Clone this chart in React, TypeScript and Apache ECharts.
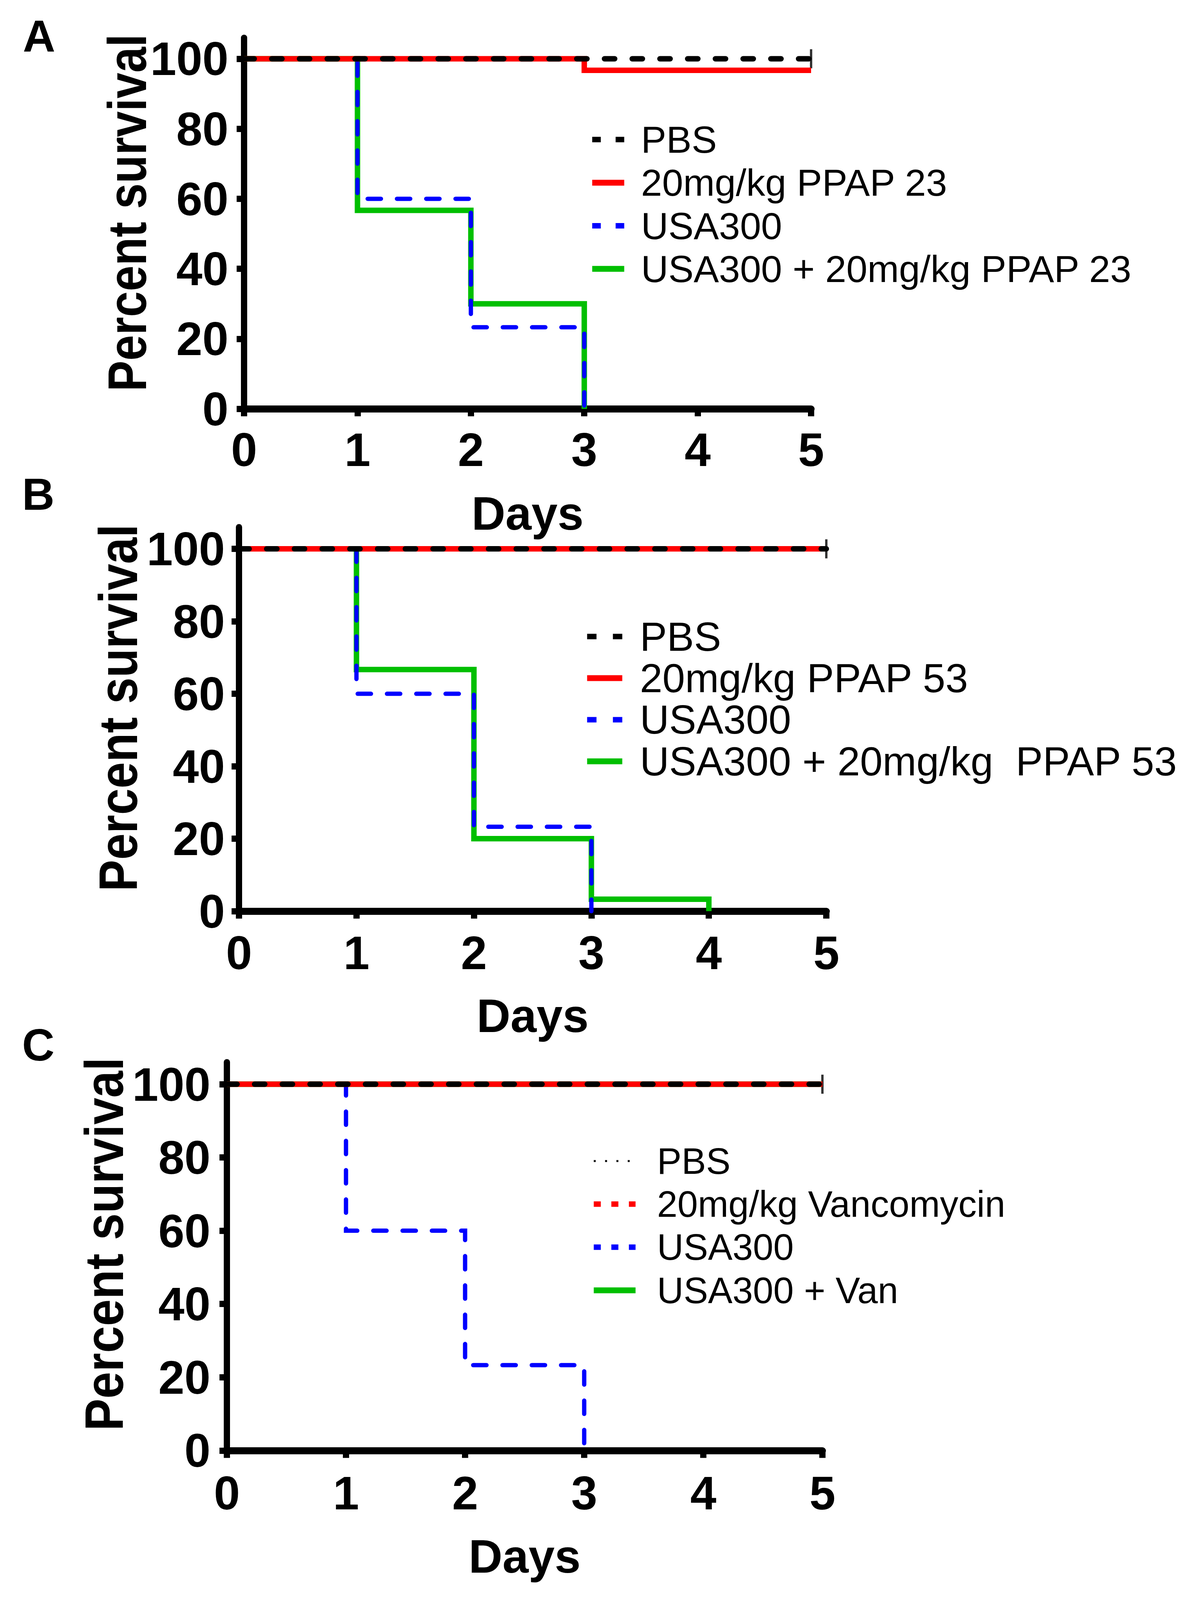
import React, { useEffect, useRef } from "react";
import * as echarts from "echarts";

// ---------- data ----------
const dayTicks = [0, 1, 2, 3, 4, 5];
const survivalTicks = [0, 20, 40, 60, 80, 100];
const panelLetters = ["A", "B", "C"];
const xTitle = "Days";
const yTitle = "Percent survival";

// Panel A  [day, percent survival]
const aPBS = [[0, 100], [5, 100]];
const aPPAP23 = [[0, 100], [3, 96.7], [5, 96.7]];
const aUSA300 = [[0, 100], [1, 60], [2, 23.3], [3, 0]];
const aUSA300PPAP23 = [[0, 100], [1, 56.7], [2, 30], [3, 0]];
const aCensored = [[5, 100]];
const legendA = ["PBS", "20mg/kg PPAP 23", "USA300", "USA300 + 20mg/kg PPAP 23"];

// Panel B
const bPBS = [[0, 100], [5, 100]];
const bPPAP53 = [[0, 100], [5, 100]];
const bUSA300 = [[0, 100], [1, 60], [2, 23.3], [3, 0]];
const bUSA300PPAP53 = [[0, 100], [1, 66.7], [2, 20], [3, 3.3], [4, 0]];
const bCensored = [[5, 100]];
const legendB = ["PBS", "20mg/kg PPAP 53", "USA300", "USA300 + 20mg/kg  PPAP 53"];

// Panel C
const cPBS = [[0, 100], [5, 100]];
const cVancomycin = [[0, 100], [5, 100]];
const cUSA300 = [[0, 100], [1, 60], [2, 23.3], [3, 0]];
const cUSA300Van = [[0, 100], [5, 100]];
const cCensored = [[5, 100]];
const legendC = ["PBS", "20mg/kg Vancomycin", "USA300", "USA300 + Van"];

// ---------- layout / style (reference coordinates, 3055 x 4195) ----------
const REF_W = 3055;
const REF_H = 4195;
const FONT = "'Liberation Sans', Arial, sans-serif";
const BLACK = "#000000";
const RED = "#ff0000";
const BLUE = "#0000ff";
const GREEN = "#00bf00";

const layouts = [
  { left: 625, top: 99, width: 1452, height: 973, xMargin: 45, yMargin: 40, nameGap: 212,
    legLeft: 1504, legRow1: 366, legRow: 113, legW: 82, legFont: 97, legPad: 38,
    yTitleX: 325, yTitleY: 558, yTitleScale: 0.866, letterX: 100, letterY: 94 },
  { left: 612, top: 1382, width: 1504, height: 1007, xMargin: 48, yMargin: 36, nameGap: 212,
    legLeft: 1491, legRow1: 1669, legRow: 109, legW: 90, legFont: 104, legPad: 40,
    yTitleX: 302, yTitleY: 1856, yTitleScale: 0.89, letterX: 98, letterY: 1296 },
  { left: 581, top: 2785, width: 1525, height: 1018, xMargin: 50, yMargin: 42, nameGap: 216,
    legLeft: 1508, legRow1: 3044, legRow: 113, legW: 107, legFont: 94, legPad: 50,
    yTitleX: 266, yTitleY: 3262, yTitleScale: 0.905, letterX: 98, letterY: 2740 },
];

type LineDef = { name: string; data: number[][]; color: string; width: number; dash: any; cap: string };

const panels: { legend: string[]; lines: LineDef[]; censored: number[][]; legendStyles: any[] }[] = [
  {
    legend: legendA,
    censored: aCensored,
    lines: [
      { name: legendA[3], data: aUSA300PPAP23, color: GREEN, width: 14, dash: "solid", cap: "butt" },
      { name: legendA[2], data: aUSA300, color: BLUE, width: 11, dash: [34, 41], cap: "round" },
      { name: legendA[1], data: aPPAP23, color: RED, width: 14, dash: "solid", cap: "butt" },
      { name: legendA[0], data: aPBS, color: BLACK, width: 14, dash: [26, 45], cap: "round" },
    ],
    legendStyles: [
      { width: 14, type: [22, 38] },
      { width: 15, type: "solid" },
      { width: 14, type: [22, 38] },
      { width: 15, type: "solid" },
    ],
  },
  {
    legend: legendB,
    censored: bCensored,
    lines: [
      { name: legendB[3], data: bUSA300PPAP53, color: GREEN, width: 14, dash: "solid", cap: "butt" },
      { name: legendB[2], data: bUSA300, color: BLUE, width: 11, dash: [34, 41], cap: "round" },
      { name: legendB[1], data: bPPAP53, color: RED, width: 14, dash: "solid", cap: "butt" },
      { name: legendB[0], data: bPBS, color: BLACK, width: 14, dash: [26, 45], cap: "round" },
    ],
    legendStyles: [
      { width: 14, type: [24, 42] },
      { width: 15, type: "solid" },
      { width: 14, type: [24, 42] },
      { width: 15, type: "solid" },
    ],
  },
  {
    legend: legendC,
    censored: cCensored,
    lines: [
      { name: legendC[3], data: cUSA300Van, color: GREEN, width: 14, dash: "solid", cap: "butt" },
      { name: legendC[2], data: cUSA300, color: BLUE, width: 11, dash: [34, 41], cap: "round" },
      { name: legendC[1], data: cVancomycin, color: RED, width: 14, dash: "solid", cap: "butt" },
      { name: legendC[0], data: cPBS, color: BLACK, width: 14, dash: [26, 45], cap: "round" },
    ],
    legendStyles: [
      { width: 5, type: [5, 24] },
      { width: 14, type: [18, 27] },
      { width: 14, type: [18, 27] },
      { width: 15, type: "solid" },
    ],
  },
];

const tag = (name: string, p: number) => `${name}#${p}`;

function buildOption(k: number) {
  const grid: any[] = [];
  const xAxis: any[] = [];
  const yAxis: any[] = [];
  const legend: any[] = [];
  const series: any[] = [];
  const graphic: any[] = [];

  panels.forEach((panel, p) => {
    const L = layouts[p];
    grid.push({ left: L.left, top: L.top * k, width: L.width, height: L.height * k, containLabel: false });
    xAxis.push({
      gridIndex: p,
      type: "value",
      min: dayTicks[0],
      max: dayTicks[dayTicks.length - 1],
      interval: 1,
      name: xTitle,
      nameLocation: "middle",
      nameGap: L.nameGap * k,
      nameTextStyle: { fontFamily: FONT, fontSize: 120, fontWeight: "bold", color: BLACK },
      axisLine: { show: true, onZero: false, lineStyle: { color: BLACK, width: 18 } },
      axisTick: { show: true, length: 19, lineStyle: { color: BLACK, width: 16 } },
      axisLabel: { fontFamily: FONT, fontSize: 120, fontWeight: "bold", color: BLACK, margin: L.xMargin * k },
      splitLine: { show: false },
    });
    yAxis.push({
      gridIndex: p,
      type: "value",
      min: 0,
      max: 106,
      axisLine: { show: true, onZero: false, lineStyle: { color: BLACK, width: 16 } },
      axisTick: { show: true, length: 19, customValues: survivalTicks, lineStyle: { color: BLACK, width: 16 } },
      axisLabel: {
        customValues: survivalTicks,
        fontFamily: FONT,
        fontSize: 120,
        fontWeight: "bold",
        color: BLACK,
        margin: L.yMargin,
      },
      splitLine: { show: false },
    });

    panel.lines.forEach((ln) => {
      series.push({
        type: "line",
        name: tag(ln.name, p),
        xAxisIndex: p,
        yAxisIndex: p,
        data: ln.data,
        step: "end",
        symbol: "none",
        silent: true,
        lineStyle: { color: ln.color, width: ln.width, type: ln.dash, cap: ln.cap, join: "miter" },
        itemStyle: { color: ln.color },
      });
    });
    series.push({
      type: "scatter",
      name: "censored#" + p,
      xAxisIndex: p,
      yAxisIndex: p,
      data: panel.censored,
      symbol: "rect",
      symbolSize: [6, 50 * k],
      silent: true,
      itemStyle: { color: BLACK },
    });

    const colorOf: Record<string, string> = {};
    panel.lines.forEach((ln) => (colorOf[ln.name] = ln.color));
    legend.push({
      orient: "vertical",
      left: L.legLeft,
      top: L.legRow1 * k - L.legFont / 2 - 5,
      itemWidth: L.legW,
      itemHeight: 16,
      itemGap: Math.max(0, L.legRow * k - L.legFont),
      selectedMode: false,
      formatter: (n: string) => n.split("#")[0],
      itemStyle: { opacity: 0 },
      textStyle: { fontFamily: FONT, fontSize: L.legFont, color: BLACK, padding: [0, 0, 0, L.legPad] },
      data: panel.legend.map((n, i) => ({
        name: tag(n, p),
        lineStyle: { color: colorOf[n], width: panel.legendStyles[i].width, type: panel.legendStyles[i].type, cap: "butt" },
      })),
    });

    graphic.push({
      type: "text",
      x: L.letterX,
      y: L.letterY * k,
      style: {
        text: panelLetters[p],
        fontFamily: FONT,
        fontSize: 115,
        fontWeight: "bold",
        fill: BLACK,
        align: "center",
        verticalAlign: "middle",
      },
    });
    graphic.push({
      type: "text",
      x: L.yTitleX,
      y: L.yTitleY * k,
      rotation: Math.PI / 2,
      scaleX: L.yTitleScale * k,
      style: {
        text: yTitle,
        fontFamily: FONT,
        fontSize: 140,
        fontWeight: "bold",
        fill: BLACK,
        align: "center",
        verticalAlign: "middle",
      },
    });
  });

  return {
    animation: false,
    backgroundColor: "#ffffff",
    grid,
    xAxis,
    yAxis,
    legend,
    series,
    graphic,
  };
}

export default function App() {
  const ref = useRef<HTMLDivElement>(null);
  useEffect(() => {
    document.body.style.margin = "0";
    const el = ref.current;
    if (!el) return;
    const vh = window.innerHeight || REF_H;
    const h = Math.min(REF_H, vh);
    const k = h / REF_H;
    el.style.height = `${h}px`;
    const chart = echarts.init(el, undefined, { renderer: "svg", width: REF_W, height: h });
    chart.setOption(buildOption(k) as any);
    return () => chart.dispose();
  }, []);
  return (
    <div
      ref={ref}
      style={{ position: "absolute", left: 0, top: 0, width: REF_W, height: REF_H, background: "#fff", overflow: "hidden" }}
    />
  );
}
